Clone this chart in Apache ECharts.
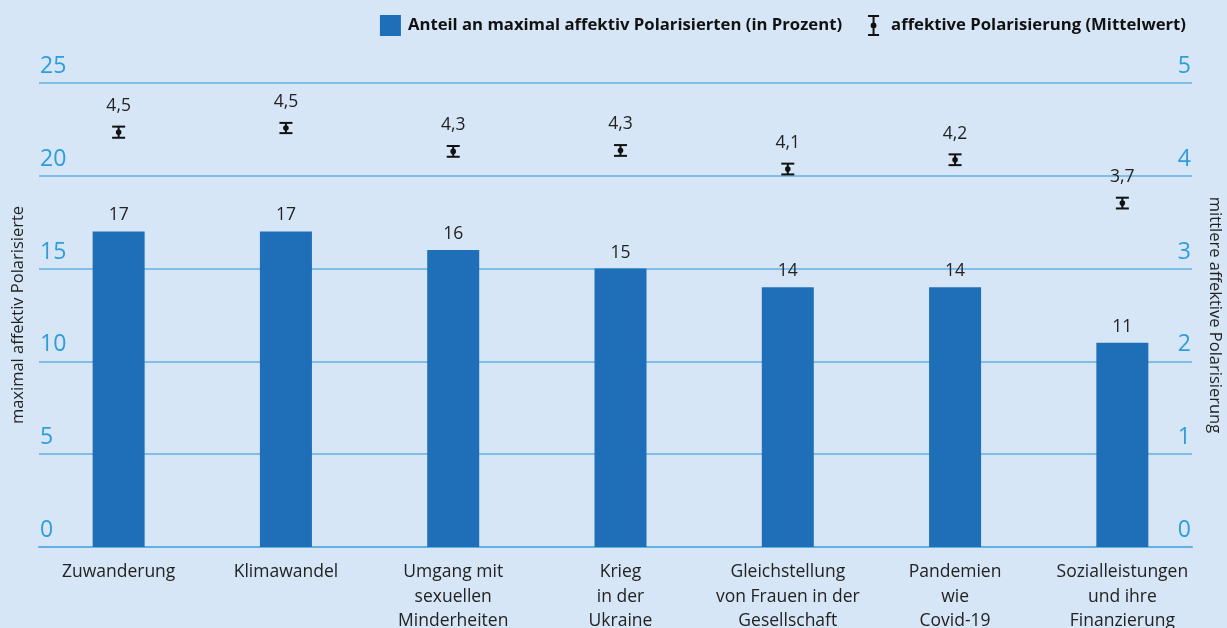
<!DOCTYPE html>
<html>
<head>
<meta charset="utf-8">
<script src="https://cdn.jsdelivr.net/npm/echarts@6/dist/echarts.min.js"></script>
<style>
  html, body { margin: 0; padding: 0; background: #d6e6f6; }
  #chart { width: 1227px; height: 628px; }
</style>
</head>
<body>
<div id="chart"></div>
<script>
// Themen
const categories = [
  "Zuwanderung",
  "Klimawandel",
  "Umgang mit\nsexuellen\nMinderheiten",
  "Krieg\nin der\nUkraine",
  "Gleichstellung\nvon Frauen in der\nGesellschaft",
  "Pandemien\nwie\nCovid-19",
  "Sozialleistungen\nund ihre\nFinanzierung"
];
// Anteil maximal affektiv Polarisierter (in Prozent)
const shareValues = [17, 17, 16, 15, 14, 14, 11];
// mittlere affektive Polarisierung + Fehlerbalken
const meanValues = [4.47, 4.515, 4.263, 4.273, 4.073, 4.173, 3.706];
const meanLow = [4.41, 4.46, 4.205, 4.215, 4.015, 4.115, 3.648];
const meanHigh = [4.53, 4.57, 4.321, 4.331, 4.131, 4.231, 3.764];
const leftTicks = [0, 25, 5];
const rightTicks = [0, 5, 1];

const FONT = '"Open Sans", "Noto Sans", sans-serif';
const TICK_COLOR = "#2d9ddb";
const LINE_COLOR = "#62b1e3";

const chart = echarts.init(document.getElementById("chart"), null, { renderer: "canvas" });

const errData = meanValues.map((m, i) => [i, m, meanLow[i], meanHigh[i]]);

chart.setOption({
  backgroundColor: "#d6e6f6",
  textStyle: { fontFamily: FONT },
  animation: false,
  legend: {
    top: 10,
    right: 36,
    itemGap: 26,
    itemWidth: 21,
    itemHeight: 21,
    textStyle: { fontSize: 16.7, fontWeight: "bold", color: "#111", fontFamily: FONT, padding: [0, 0, 0, 2] },
    data: [
      { name: "Anteil an maximal affektiv Polarisierten (in Prozent)", icon: "rect" },
      {
        name: "affektive Polarisierung (Mittelwert)",
        icon: "path://M0,0H11V2H6.5V19H11V21H0V19H4.5V2H0Z M2.6,10.5A2.9,2.9 0 1 1 8.4,10.5A2.9,2.9 0 1 1 2.6,10.5Z",
        itemStyle: { color: "#111" }
      }
    ]
  },
  grid: [
    { left: 35, right: 21, top: 83, bottom: 81, outerBoundsMode: "none" },
    { left: 39, right: 35, top: 83, bottom: 81, outerBoundsMode: "none" }
  ],
  xAxis: [
    {
      type: "category",
      gridIndex: 0,
      data: categories,
      axisLine: { show: false },
      axisTick: { show: false },
      axisLabel: { color: "#222", fontSize: 17.5, lineHeight: 24.5, margin: 13, interval: 0, fontFamily: FONT }
    },
    {
      type: "category",
      gridIndex: 1,
      data: categories,
      axisLine: { show: true, lineStyle: { color: LINE_COLOR, width: 2 } },
      axisTick: { show: false },
      axisLabel: { show: false }
    }
  ],
  yAxis: [
    { type: "value", gridIndex: 0, min: leftTicks[0], max: leftTicks[1], show: false },
    { type: "value", gridIndex: 0, min: rightTicks[0], max: rightTicks[1], show: false },
    {
      type: "value",
      gridIndex: 1,
      position: "left",
      min: leftTicks[0],
      max: leftTicks[1],
      interval: leftTicks[2],
      name: "maximal affektiv Polarisierte",
      nameLocation: "middle",
      nameGap: 12,
      nameTextStyle: { color: "#222", fontSize: 16.5, fontFamily: FONT },
      axisLine: { show: false },
      axisTick: { show: false },
      splitLine: { show: true, lineStyle: { color: LINE_COLOR, width: 1.5 } },
      axisLabel: {
        inside: true,
        margin: 1,
        verticalAlign: "bottom",
        padding: [0, 0, 5, 0],
        color: TICK_COLOR,
        fontSize: 23,
        fontFamily: FONT
      }
    },
    {
      type: "value",
      gridIndex: 1,
      position: "right",
      min: rightTicks[0],
      max: rightTicks[1],
      interval: rightTicks[2],
      name: "mittlere affektive Polarisierung",
      nameLocation: "middle",
      nameRotate: -90,
      nameGap: 14,
      nameTextStyle: { color: "#222", fontSize: 16.5, fontFamily: FONT },
      axisLine: { show: false },
      axisTick: { show: false },
      splitLine: { show: false },
      axisLabel: {
        inside: true,
        margin: 1,
        verticalAlign: "bottom",
        padding: [0, 0, 5, 0],
        color: TICK_COLOR,
        fontSize: 23,
        fontFamily: FONT
      }
    }
  ],
  series: [
    {
      name: "Anteil an maximal affektiv Polarisierten (in Prozent)",
      type: "bar",
      xAxisIndex: 0,
      yAxisIndex: 0,
      data: shareValues,
      barWidth: 52,
      itemStyle: { color: "#1f6fb8" },
      label: {
        show: true,
        position: "top",
        distance: 7,
        color: "#222",
        fontSize: 17.5,
        fontFamily: FONT
      }
    },
    {
      name: "affektive Polarisierung (Mittelwert)",
      type: "custom",
      xAxisIndex: 0,
      yAxisIndex: 1,
      data: errData,
      itemStyle: { color: "#111" },
      z: 5,
      renderItem: function (params, api) {
        const c = api.coord([api.value(0), api.value(1)]);
        const lo = api.coord([api.value(0), api.value(2)]);
        const hi = api.coord([api.value(0), api.value(3)]);
        const w = 6.5;
        const stroke = { stroke: "#111", lineWidth: 2 };
        const txt = (Math.round(api.value(1) * 10) / 10).toFixed(1).replace(".", ",");
        return {
          type: "group",
          children: [
            { type: "line", shape: { x1: c[0] - w, y1: hi[1], x2: c[0] + w, y2: hi[1] }, style: stroke },
            { type: "line", shape: { x1: c[0], y1: hi[1], x2: c[0], y2: lo[1] }, style: stroke },
            { type: "line", shape: { x1: c[0] - w, y1: lo[1], x2: c[0] + w, y2: lo[1] }, style: stroke },
            { type: "circle", shape: { cx: c[0], cy: c[1], r: 2.8 }, style: { fill: "#111" } },
            {
              type: "text",
              x: c[0],
              y: c[1] - 26,
              style: {
                text: txt,
                textAlign: "center",
                textVerticalAlign: "middle",
                fontSize: 17.5,
                fontFamily: FONT,
                fill: "#222"
              }
            }
          ]
        };
      }
    }
  ]
});
</script>
</body>
</html>
